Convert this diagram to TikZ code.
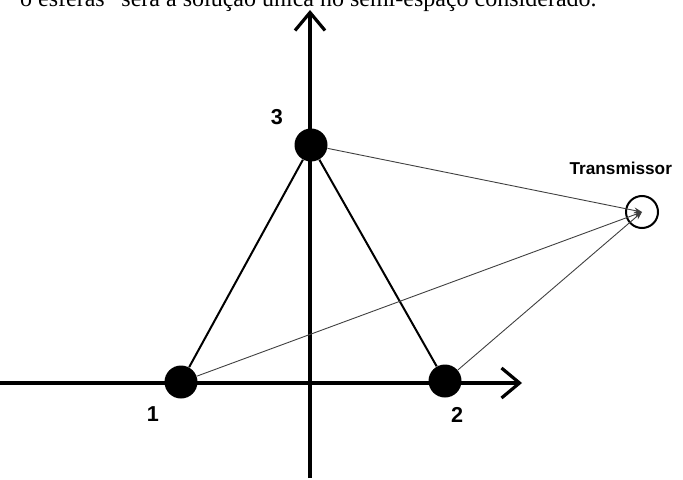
\documentclass[tikz,border=0pt]{standalone}
\usepackage{fontspec}
\setmainfont{Liberation Serif}
\setsansfont{Liberation Sans}
\usetikzlibrary{arrows.meta, positioning}

\tikzset{
    axis/.style={line width=1.6pt, -{Straight Barb[length=9pt, width=15pt, line width=1.6pt]}},
    sphere/.style={circle, fill=black, minimum size=16.5pt, inner sep=0pt},
    link/.style={line width=1pt},
    ray/.style={line width=0.45pt, black!75, -{Stealth[length=4pt, width=3pt]}},
    lbl/.style={font=\sffamily\bfseries\fontsize{10.8}{12}\selectfont}
}

\begin{document}
\begin{tikzpicture}[x=0.5pt, y=-0.5pt]
    \useasboundingbox (0,0) rectangle (683,480);
    % Text line cut off at the top of the page
    \node[anchor=base east, inner sep=0pt, font=\fontsize{12}{14}\selectfont] (txt) at (597,7)
        {o esferas” será a solução única no semi-espaço considerado.};
    % Axes
    \coordinate (xl) at (0,383);
    \coordinate (xr) at (522,383);
    \coordinate (yb) at (310,478);
    \coordinate (yt) at (310,10);
    \draw[axis] (xl) -- (xr);
    \draw[axis] (yb) -- (yt);
    % Spheres
    \node[sphere] (s1) at (181,382) {};
    \node[sphere] (s2) at (445,381) {};
    \node[sphere] (s3) at (311,145) {};
    \node[lbl] (l1) at (153,414) {1};
    \node[lbl] (l2) at (457,415) {2};
    \node[lbl] (l3) at (277,117) {3};
    % Transmitter
    \node[circle, draw, line width=1pt, minimum size=16pt, inner sep=0pt] (tx) at (642,212) {};
    \node[lbl, anchor=base east, font=\sffamily\bfseries\fontsize{8.6}{10}\selectfont] (tl) at (679,175) {Transmissor};
    % Links between the spheres
    \draw[link] (s1) -- (s3) -- (s2);
    % Rays to the transmitter
    \draw[ray] (s3) -- (tx.center);
    \draw[ray] (s1) -- (tx.center);
    \draw[ray] (s2) -- (tx.center);
\end{tikzpicture}
\end{document}
